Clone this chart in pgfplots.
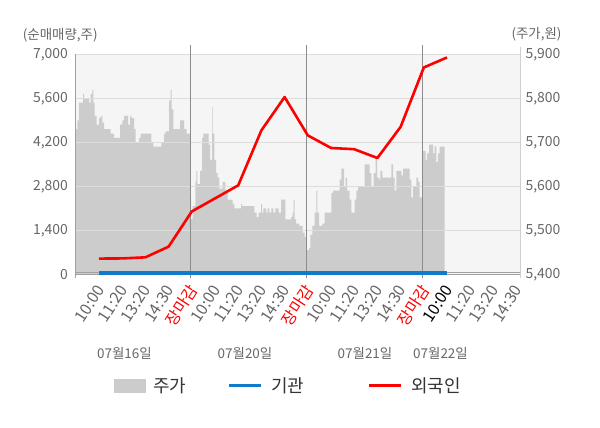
\documentclass[border=0pt]{standalone}
\usepackage{fontspec}
\setmainfont{Noto Sans CJK KR}
\usepackage{pgfplots}
\usepackage{pgfplotstable}
\pgfplotsset{compat=1.18}
\definecolor{areacol}{HTML}{CCCCCC}
\definecolor{bgcol}{HTML}{F5F5F5}
\definecolor{gridcol}{HTML}{DDDDDD}
\definecolor{daycol}{HTML}{8C8C8C}
\definecolor{axiscol}{HTML}{A0A0A0}
\definecolor{raxiscol}{HTML}{CFCFCF}
\definecolor{ticktext}{HTML}{666666}
\definecolor{instblue}{HTML}{107CC9}
\definecolor{forred}{HTML}{FF0000}
\definecolor{legtext}{HTML}{333333}
\pgfplotsset{
  mybox legend/.style={legend image code/.code={\fill[##1] (0bp,-7bp) rectangle (32bp,7bp);}},
  myline legend/.style={legend image code/.code={\draw[##1] (0bp,0bp) -- (32bp,0bp);}},
}
% price (right axis): x position along the time axis, price in won
\pgfplotstableread{
x p
75.8 5400
75.8 5730
77.3 5750
79.0 5790
83.0 5810
84.0 5800
89.0 5790
90.7 5810
92.3 5820
93.3 5790
94.7 5760
96.7 5740
99.0 5755
100.7 5760
102.3 5745
104.0 5730
110.7 5720
114.0 5710
120.0 5740
122.3 5750
124.0 5760
128.0 5740
130.0 5760
131.3 5755
134.0 5730
135.7 5700
139.0 5710
140.7 5720
151.3 5700
153.3 5690
161.3 5700
164.0 5720
165.7 5725
169.0 5795
170.7 5820
171.7 5775
173.3 5730
180.0 5750
184.0 5730
186.7 5720
190.4 5575
191.0 5525
192.7 5555
195.3 5610
196.3 5635
197.3 5605
200.0 5635
202.0 5710
203.3 5720
208.7 5695
210.0 5660
212.0 5780
212.7 5720
214.3 5660
216.0 5630
217.7 5620
219.3 5595
222.7 5610
225.3 5590
227.7 5570
232.7 5560
234.3 5550
241.0 5560
242.0 5555
254.3 5540
256.7 5530
258.7 5540
261.0 5560
262.0 5540
263.3 5550
266.0 5540
267.7 5550
269.3 5540
271.3 5550
273.3 5540
275.3 5550
278.7 5540
281.0 5570
285.3 5525
291.0 5530
292.7 5540
293.7 5570
294.7 5525
296.0 5515
299.3 5510
302.7 5495
304.7 5485
306.4 5455
309.0 5460
310.3 5490
312.3 5510
314.7 5540
316.3 5590
317.3 5540
319.0 5510
322.3 5515
324.7 5540
331.3 5585
333.0 5590
339.7 5615
341.3 5640
344.0 5600
345.7 5620
347.0 5590
349.7 5570
351.3 5540
354.7 5570
356.3 5590
358.0 5600
364.7 5650
369.7 5630
371.3 5600
373.7 5630
375.7 5665
377.0 5620
379.0 5615
380.3 5635
382.3 5620
391.3 5650
393.0 5620
394.7 5590
396.3 5635
401.3 5625
403.0 5640
409.7 5615
411.3 5575
413.0 5600
416.3 5620
418.0 5610
419.7 5575
422.4 5680
425.7 5660
427.0 5675
429.0 5695
433.0 5675
434.7 5690
436.3 5655
438.0 5675
439.7 5690
444.7 5690
444.7 5400
}\pricetable
% foreign net buying (left axis)
\pgfplotstableread{
x v
99 500
122.2 505
145.4 540
168.6 880
191.8 2000
215 2415
238.2 2830
261.4 4580
284.6 5640
307.8 4420
331 4020
354.2 3980
377.4 3700
400.6 4690
423.8 6580
447 6900
}\foreigntable
% institutional net buying (left axis)
\pgfplotstableread{
x v
99 0
447 0
}\insttable
\begin{document}
\begin{tikzpicture}
\useasboundingbox (-75.8bp,-153.7bp) rectangle (524.2bp,274.3bp);
% ---------- right axis: price area ----------
\begin{axis}[
  at={(0,0)}, anchor=south west, scale only axis,
  width=444.2bp, height=220bp,
  xmin=75.8, xmax=520, ymin=5400, ymax=5900,
  axis background/.style={fill=bgcol},
  axis x line=none,
  axis y line*=right,
  y axis line style={-, draw=raxiscol, line width=0.8bp, shorten <=-3.5bp, shorten >=-7bp},
  ytick={5400,5500,5600,5700,5800,5900},
  scaled y ticks=false,
  major tick length=0pt,
  /pgf/number format/assume math mode=true,
  /pgf/number format/1000 sep={,},
  yticklabel style={font=\fontsize{14}{16}\selectfont, text=ticktext, xshift=2bp},
]
\addplot[const plot, fill=areacol, draw=none] table[x=x, y=p] {\pricetable};
\end{axis}
% ---------- left axis: net buying ----------
\begin{axis}[
  at={(0,0)}, anchor=south west, scale only axis,
  width=444.2bp, height=220bp,
  xmin=75.8, xmax=520, ymin=0, ymax=7000,
  axis y line*=left, axis x line*=bottom,
  x axis line style={-, draw=axiscol, line width=0.8bp},
  y axis line style={-, draw=axiscol, line width=0.8bp, shorten <=-3.5bp},
  ytick={0,1400,2800,4200,5600,7000},
  ymajorgrids, grid style={draw=gridcol, line width=0.8bp},
  xtick={97.5,120.7,143.9,167.1,190.3,213.5,236.7,259.9,283.1,306.3,329.5,352.7,375.9,399.1,422.3,445.5,468.7,491.9,515.1},
  xticklabels={10:00,11:20,13:20,14:30,\textcolor{forred}{장마감},10:00,11:20,13:20,14:30,\textcolor{forred}{장마감},10:00,11:20,13:20,14:30,\textcolor{forred}{장마감},\textcolor{black}{10:00},11:20,13:20,14:30},
  major tick length=0pt,
  clip mode=individual,
  scaled y ticks=false,
  /pgf/number format/assume math mode=true,
  /pgf/number format/1000 sep={,},
  yticklabel style={font=\fontsize{14}{16}\selectfont, text=ticktext, xshift=-4.4bp},
  xticklabel style={font=\fontsize{16}{18}\selectfont, text=ticktext, inner sep=0pt, anchor=east, xshift=3bp, yshift=-12.5bp, rotate=57},
  legend columns=3,
  legend style={at={(0.079,-0.5055)}, anchor=west, draw=none, fill=none,
    font=\fontsize{18}{21}\selectfont, text=legtext,
    /tikz/column 2/.style={column sep=39bp},
    /tikz/column 4/.style={column sep=61bp}},
]
\addlegendimage{mybox legend, fill=areacol, draw=none}
\addlegendentry{\hspace{5bp}주가}
\addlegendimage{myline legend, instblue, line width=3.3bp}
\addlegendentry{\hspace{7bp}기관}
\addlegendimage{myline legend, forred, line width=3bp}
\addlegendentry{\hspace{7bp}외국인}
% bottom double line
\draw[axiscol, line width=0.8bp] ([yshift=2.3bp]axis cs:75.8,0) -- ([yshift=2.3bp]axis cs:520,0);
% session boundaries
\draw[daycol, line width=0.9bp] ([yshift=-3.5bp]axis cs:190.3,0) -- ([yshift=9bp]axis cs:190.3,7000);
\draw[daycol, line width=0.9bp] ([yshift=-3.5bp]axis cs:306.3,0) -- ([yshift=9bp]axis cs:306.3,7000);
\draw[daycol, line width=0.9bp] ([yshift=-3.5bp]axis cs:422.3,0) -- ([yshift=9bp]axis cs:422.3,7000);
\addplot[forget plot, instblue, line width=6.6bp] table[x=x, y=v] {\insttable};
\addplot[forget plot, forred, line width=2.6bp, line join=round] table[x=x, y=v] {\foreigntable};
% date labels
\node[font=\fontsize{13.5}{16}\selectfont, text=ticktext] at ([yshift=-79.3bp]axis cs:124.5,0) {07월16일};
\node[font=\fontsize{13.5}{16}\selectfont, text=ticktext] at ([yshift=-79.3bp]axis cs:245,0) {07월20일};
\node[font=\fontsize{13.5}{16}\selectfont, text=ticktext] at ([yshift=-79.3bp]axis cs:365,0) {07월21일};
\node[font=\fontsize{13.5}{16}\selectfont, text=ticktext] at ([yshift=-79.3bp]axis cs:440.5,0) {07월22일};
% axis titles
\node[font=\fontsize{13.5}{16}\selectfont, text=ticktext, anchor=west, inner sep=0pt] at ([yshift=19bp]axis cs:22.7,7000) {(순매매량,주)};
\node[font=\fontsize{13.5}{16}\selectfont, text=ticktext, anchor=east, inner sep=0pt] at ([yshift=20.5bp]axis cs:561.7,7000) {(주가,원)};
\end{axis}
\end{tikzpicture}
\end{document}
